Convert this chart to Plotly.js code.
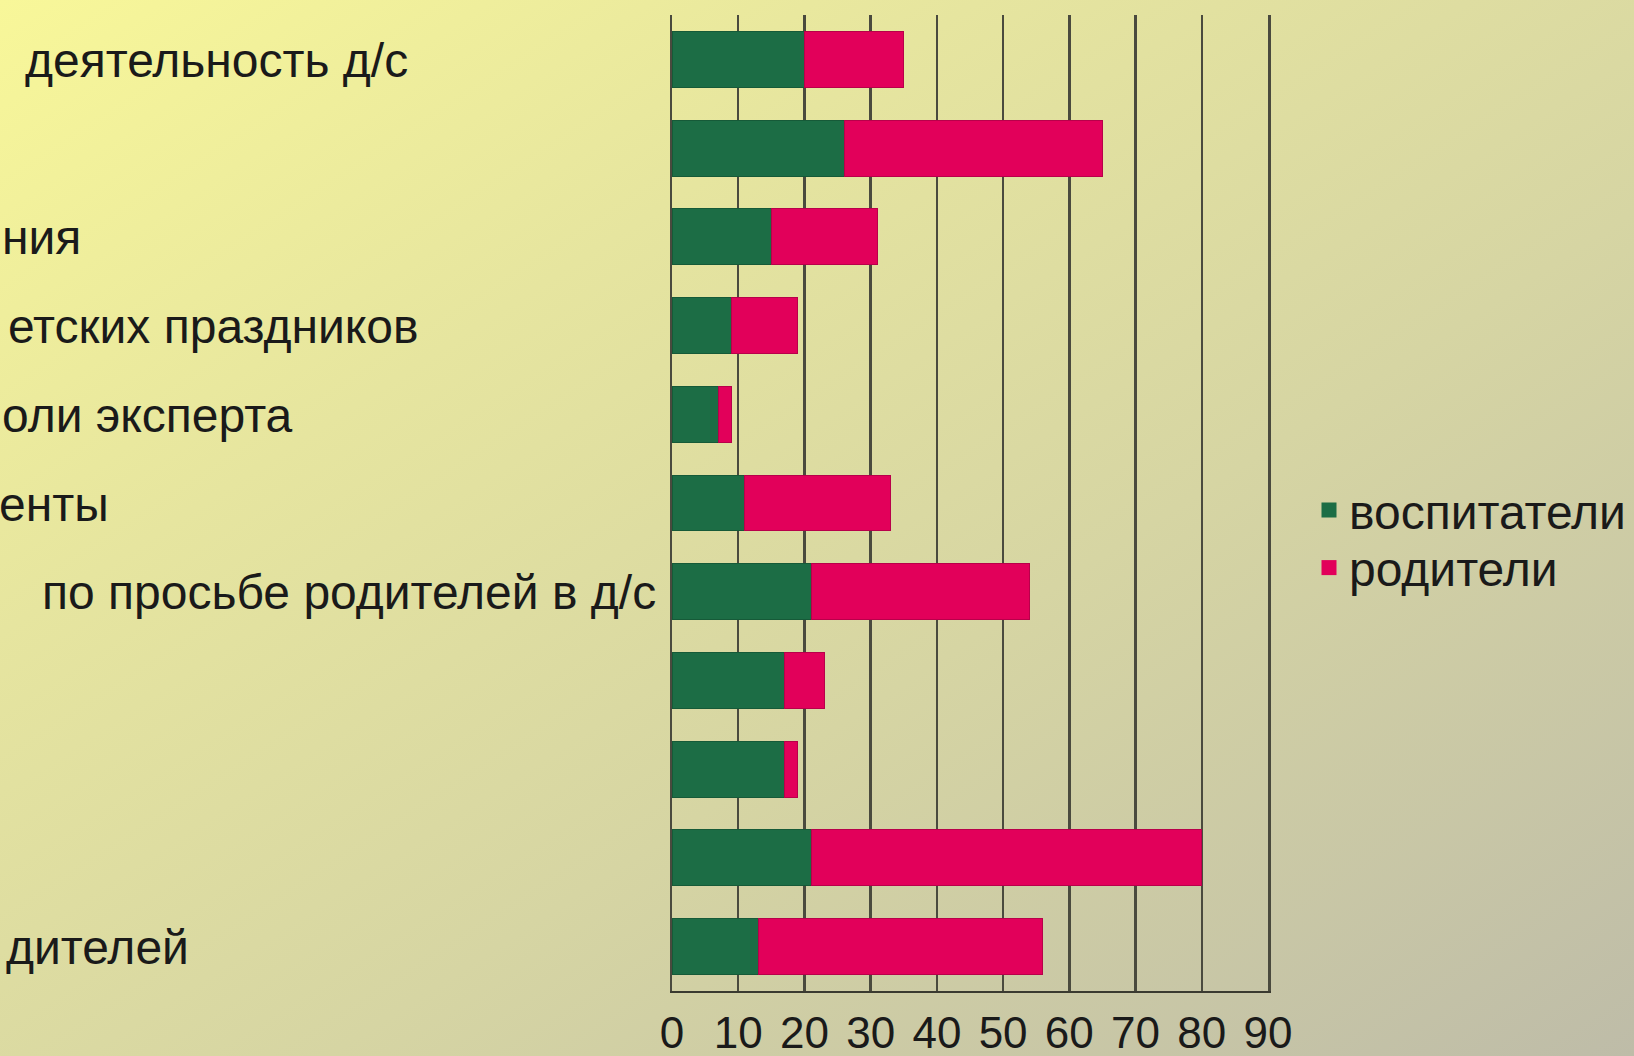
<!DOCTYPE html>
<html>
<head>
<meta charset="utf-8">
<script src="https://cdn.plot.ly/plotly-3.0.1.min.js"></script>
<style>
  html, body { margin: 0; padding: 0; }
  #chart {
    width: 1634px; height: 1056px;
    background: linear-gradient(to bottom right, #f8f799 0%, #e6e59f 30%, #d6d5a3 60%, #bebca8 100%);
  }
</style>
</head>
<body>
<div id="chart"></div>
<script>
// Category labels (top to bottom) as visible in the picture (the rest lies beyond the left edge)
const categories = [
  "деятельность д/с",
  "",
  "ния",
  "етских праздников",
  "оли эксперта",
  "енты",
  "по просьбе родителей в д/с",
  "",
  "",
  "",
  "дителей"
];
const seriesNames = ["воспитатели", "родители"];
const educators = [20, 26, 15, 9, 7, 11, 21, 17, 17, 21, 13];
const parents   = [15, 39, 16, 10, 2, 22, 33, 6, 2, 59, 43];
const xTicks = [0, 10, 20, 30, 40, 50, 60, 70, 80, 90];

// layout helpers: label right-edge offsets from the axis (px)
const labelShift = [-262, 0, -589, -251, -377, -561, -14, 0, 0, 0, -481];
const colors = ['#1c6d45', '#e2005a'];
const lineColors = ['#165a38', '#b8004a'];

const FONT = '"Liberation Sans", Arial, sans-serif';
const yIdx = categories.map((c, i) => i + 1);
const seriesValues = [educators, parents];

const traces = seriesValues.map((vals, k) => ({
  type: 'bar', orientation: 'h', name: seriesNames[k],
  x: vals, y: yIdx, showlegend: false,
  marker: { color: colors[k], line: { color: lineColors[k], width: 1 } }
}));
// legend entries (square keys)
seriesNames.forEach((n, k) => traces.push({
  type: 'scatter', mode: 'markers', name: n,
  x: [null], y: [null], showlegend: true,
  legend: k === 0 ? 'legend' : 'legend2',
  marker: { symbol: 'square', size: 15, color: colors[k] }
}));

const annotations = categories.map((c, i) => ({
  text: c, showarrow: false,
  xref: 'paper', x: 0, xanchor: 'right', xshift: labelShift[i],
  yref: 'y', y: yIdx[i], yanchor: 'middle', yshift: -1,
  font: { family: FONT, size: 48, color: '#1a1a1a' }
})).filter(a => a.text !== '');

const legendFont = { family: FONT, size: 48, color: '#1a1a1a' };
const layout = {
  width: 1634, height: 1056,
  margin: { l: 671.5, r: 366, t: 15, b: 65, autoexpand: false },
  paper_bgcolor: 'rgba(0,0,0,0)',
  plot_bgcolor: 'rgba(0,0,0,0)',
  barmode: 'stack',
  bargap: 0.37,
  font: { family: FONT, color: '#1a1a1a' },
  xaxis: {
    range: [0, 90],
    tickvals: xTicks,
    ticktext: xTicks.map(String),
    showgrid: true, gridcolor: '#4a4a3e', gridwidth: 2.5,
    zeroline: false,
    showline: true, linecolor: '#3a3a30', linewidth: 2,
    ticks: '',
    ticklabelstandoff: 2,
    tickfont: { family: FONT, size: 44, color: '#1a1a1a' },
    fixedrange: true
  },
  yaxis: {
    range: [11.5, 0.5],
    showticklabels: false,
    showgrid: false, zeroline: false,
    showline: true, mirror: true, linecolor: '#4a4a3e', linewidth: 2.5,
    ticks: '',
    fixedrange: true
  },
  showlegend: true,
  legend: {
    xref: 'container', x: 0.8011, xanchor: 'left', y: 0.4925, yanchor: 'middle',
    bgcolor: 'rgba(0,0,0,0)', font: legendFont
  },
  legend2: {
    xref: 'container', x: 0.8011, xanchor: 'left', y: 0.4335, yanchor: 'middle',
    bgcolor: 'rgba(0,0,0,0)', font: legendFont
  },
  annotations: annotations
};

Plotly.newPlot('chart', traces, layout, { displayModeBar: false, staticPlot: true });
</script>
</body>
</html>
